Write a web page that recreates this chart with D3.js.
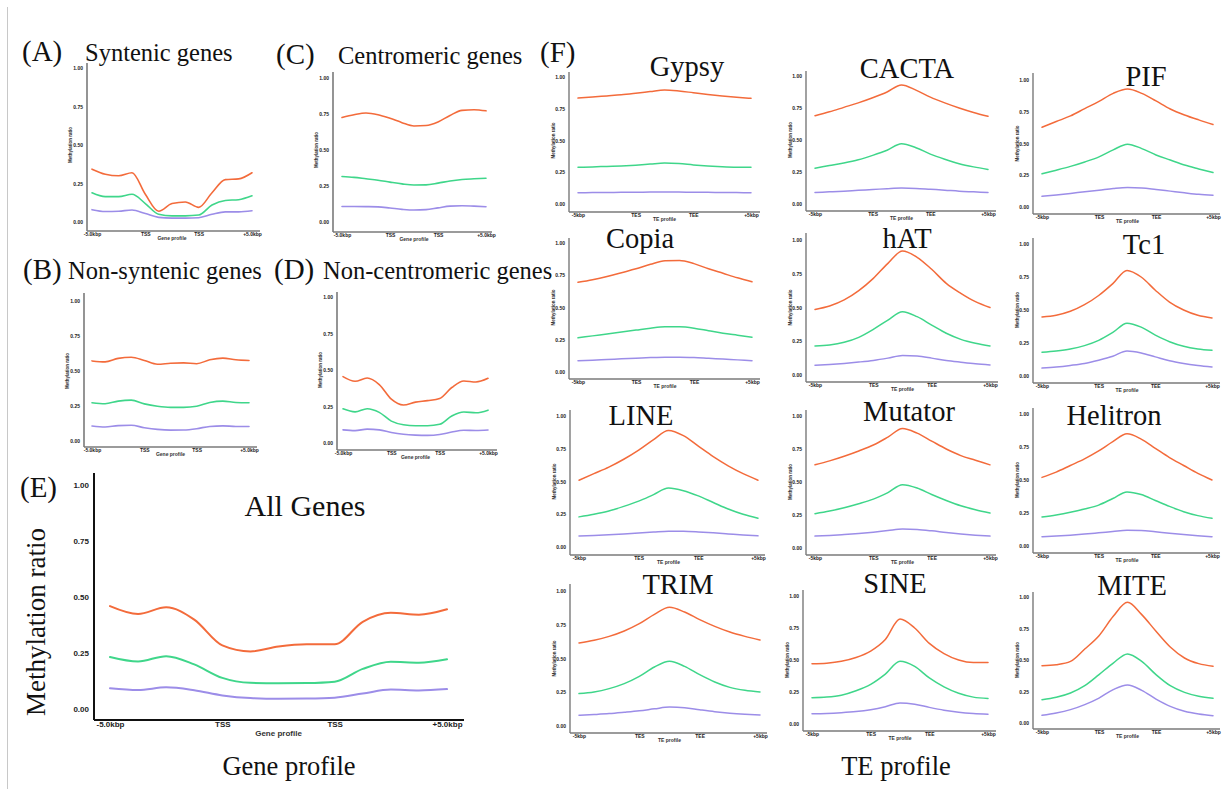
<!DOCTYPE html>
<html><head><meta charset="utf-8">
<script src="https://cdn.jsdelivr.net/npm/d3@7"></script>
<style>body{margin:0;background:#fff}svg{display:block}</style>
</head><body>
<svg id="chart" width="1231" height="789"></svg>
<script>
// ---------- DATA ----------
const positions = d3.range(13);               // 13 bins along the profile
const yTickValues = [0, 0.25, 0.5, 0.75, 1];
const geneTicks = ["-5.0kbp", "TSS", "TSS", "+5.0kbp"];
const teTicks = ["-5kbp", "TES", "TEE", "+5kbp"];
const contexts = ["CG", "CHG", "CHH"];

const syntenic = {
  CG:  [0.343, 0.31, 0.30, 0.32, 0.18, 0.07, 0.12, 0.13, 0.095, 0.19, 0.275, 0.28, 0.32],
  CHG: [0.19, 0.165, 0.165, 0.18, 0.12, 0.05, 0.04, 0.04, 0.045, 0.11, 0.14, 0.145, 0.17],
  CHH: [0.08, 0.068, 0.07, 0.078, 0.055, 0.03, 0.025, 0.025, 0.028, 0.05, 0.066, 0.066, 0.073]
};
const centromeric = {
  CG:  [0.726, 0.745, 0.757, 0.745, 0.72, 0.69, 0.667, 0.67, 0.695, 0.74, 0.775, 0.78, 0.772],
  CHG: [0.316, 0.31, 0.30, 0.29, 0.277, 0.265, 0.257, 0.258, 0.27, 0.285, 0.295, 0.30, 0.304],
  CHH: [0.108, 0.108, 0.107, 0.105, 0.097, 0.088, 0.083, 0.086, 0.098, 0.11, 0.113, 0.11, 0.106]
};
const nonSyntenic = {
  CG:  [0.572, 0.565, 0.59, 0.598, 0.575, 0.548, 0.555, 0.558, 0.552, 0.58, 0.592, 0.58, 0.575],
  CHG: [0.273, 0.266, 0.285, 0.292, 0.265, 0.248, 0.24, 0.24, 0.248, 0.275, 0.285, 0.275, 0.273],
  CHH: [0.107, 0.10, 0.11, 0.112, 0.095, 0.083, 0.078, 0.079, 0.088, 0.104, 0.108, 0.104, 0.104]
};
const nonCentromeric = {
  CG:  [0.455, 0.423, 0.445, 0.40, 0.30, 0.26, 0.28, 0.29, 0.305, 0.38, 0.425, 0.418, 0.443],
  CHG: [0.234, 0.213, 0.235, 0.21, 0.15, 0.125, 0.118, 0.118, 0.128, 0.185, 0.212, 0.207, 0.225],
  CHH: [0.09, 0.085, 0.095, 0.09, 0.072, 0.06, 0.054, 0.052, 0.058, 0.075, 0.087, 0.086, 0.089]
};
const allGenes = {
  CG:  [0.46, 0.425, 0.455, 0.40, 0.285, 0.258, 0.28, 0.29, 0.29, 0.39, 0.43, 0.422, 0.446],
  CHG: [0.233, 0.213, 0.237, 0.20, 0.14, 0.118, 0.116, 0.117, 0.123, 0.18, 0.212, 0.208, 0.223],
  CHH: [0.094, 0.086, 0.098, 0.085, 0.062, 0.05, 0.047, 0.048, 0.052, 0.07, 0.088, 0.084, 0.09]
};
const gypsy = {
  CG:  [0.834, 0.842, 0.851, 0.86, 0.872, 0.885, 0.898, 0.89, 0.876, 0.862, 0.85, 0.84, 0.832],
  CHG: [0.289, 0.292, 0.296, 0.30, 0.306, 0.314, 0.322, 0.318, 0.308, 0.30, 0.294, 0.29, 0.289],
  CHH: [0.089, 0.09, 0.091, 0.092, 0.093, 0.094, 0.095, 0.094, 0.093, 0.092, 0.091, 0.09, 0.089]
};
const cacta = {
  CG:  [0.69, 0.72, 0.755, 0.79, 0.83, 0.875, 0.93, 0.89, 0.835, 0.79, 0.75, 0.715, 0.685],
  CHG: [0.28, 0.30, 0.32, 0.345, 0.38, 0.42, 0.47, 0.44, 0.39, 0.35, 0.315, 0.29, 0.27],
  CHH: [0.09, 0.095, 0.10, 0.107, 0.113, 0.12, 0.125, 0.122, 0.115, 0.108, 0.10, 0.095, 0.09]
};
const pif = {
  CG:  [0.628, 0.673, 0.717, 0.775, 0.832, 0.895, 0.929, 0.895, 0.835, 0.772, 0.725, 0.686, 0.65],
  CHG: [0.262, 0.29, 0.32, 0.355, 0.395, 0.45, 0.495, 0.46, 0.41, 0.37, 0.33, 0.30, 0.272],
  CHH: [0.084, 0.095, 0.107, 0.12, 0.132, 0.145, 0.153, 0.15, 0.138, 0.125, 0.112, 0.10, 0.092]
};
const copia = {
  CG:  [0.695, 0.715, 0.74, 0.77, 0.80, 0.835, 0.862, 0.865, 0.84, 0.80, 0.765, 0.73, 0.70],
  CHG: [0.265, 0.28, 0.295, 0.31, 0.325, 0.34, 0.35, 0.35, 0.34, 0.32, 0.30, 0.285, 0.27],
  CHH: [0.088, 0.092, 0.097, 0.102, 0.107, 0.112, 0.115, 0.115, 0.112, 0.106, 0.10, 0.094, 0.088]
};
const hat = {
  CG:  [0.486, 0.511, 0.556, 0.625, 0.716, 0.827, 0.918, 0.872, 0.783, 0.679, 0.605, 0.543, 0.50],
  CHG: [0.215, 0.222, 0.242, 0.279, 0.338, 0.407, 0.469, 0.432, 0.37, 0.309, 0.264, 0.235, 0.215],
  CHH: [0.072, 0.078, 0.086, 0.096, 0.108, 0.125, 0.145, 0.14, 0.125, 0.108, 0.095, 0.083, 0.074]
};
const tc1 = {
  CG:  [0.447, 0.46, 0.49, 0.54, 0.61, 0.70, 0.80, 0.75, 0.65, 0.56, 0.50, 0.46, 0.44],
  CHG: [0.18, 0.19, 0.205, 0.23, 0.27, 0.33, 0.40, 0.37, 0.31, 0.26, 0.225, 0.205, 0.195],
  CHH: [0.06, 0.068, 0.08, 0.095, 0.12, 0.15, 0.19, 0.175, 0.145, 0.115, 0.095, 0.08, 0.068]
};
const line = {
  CG:  [0.51, 0.56, 0.61, 0.67, 0.74, 0.82, 0.89, 0.85, 0.77, 0.69, 0.62, 0.56, 0.51],
  CHG: [0.23, 0.25, 0.275, 0.31, 0.35, 0.40, 0.45, 0.43, 0.39, 0.34, 0.29, 0.25, 0.22],
  CHH: [0.084, 0.088, 0.093, 0.099, 0.106, 0.114, 0.121, 0.12, 0.115, 0.108, 0.10, 0.092, 0.085]
};
const mutator = {
  CG:  [0.63, 0.66, 0.695, 0.735, 0.78, 0.84, 0.905, 0.87, 0.81, 0.75, 0.70, 0.665, 0.63],
  CHG: [0.26, 0.28, 0.305, 0.335, 0.37, 0.42, 0.48, 0.455, 0.405, 0.36, 0.32, 0.29, 0.265],
  CHH: [0.09, 0.095, 0.102, 0.11, 0.12, 0.132, 0.143, 0.14, 0.13, 0.117, 0.106, 0.097, 0.09]
};
const helitron = {
  CG:  [0.52, 0.56, 0.61, 0.66, 0.72, 0.79, 0.85, 0.81, 0.74, 0.67, 0.61, 0.55, 0.50],
  CHG: [0.22, 0.235, 0.255, 0.28, 0.31, 0.36, 0.41, 0.39, 0.345, 0.30, 0.26, 0.23, 0.21],
  CHH: [0.07, 0.075, 0.082, 0.09, 0.10, 0.11, 0.12, 0.118, 0.108, 0.097, 0.087, 0.078, 0.07]
};
const trim = {
  CG:  [0.615, 0.635, 0.664, 0.704, 0.758, 0.827, 0.879, 0.844, 0.788, 0.738, 0.696, 0.664, 0.637],
  CHG: [0.24, 0.252, 0.277, 0.314, 0.368, 0.437, 0.479, 0.442, 0.38, 0.326, 0.286, 0.264, 0.252],
  CHH: [0.079, 0.085, 0.092, 0.102, 0.113, 0.127, 0.14, 0.135, 0.12, 0.106, 0.095, 0.087, 0.081]
};
const sine = {
  CG:  [0.47, 0.475, 0.49, 0.52, 0.57, 0.66, 0.82, 0.75, 0.63, 0.55, 0.50, 0.48, 0.48],
  CHG: [0.205, 0.21, 0.225, 0.26, 0.31, 0.39, 0.49, 0.45, 0.36, 0.29, 0.24, 0.21, 0.20],
  CHH: [0.08, 0.082, 0.088, 0.097, 0.112, 0.135, 0.165, 0.155, 0.13, 0.108, 0.092, 0.082, 0.076]
};
const mite = {
  CG:  [0.455, 0.463, 0.489, 0.587, 0.693, 0.847, 0.958, 0.86, 0.728, 0.603, 0.516, 0.471, 0.45],
  CHG: [0.185, 0.204, 0.238, 0.296, 0.384, 0.476, 0.548, 0.489, 0.384, 0.296, 0.243, 0.212, 0.196],
  CHH: [0.061, 0.079, 0.106, 0.146, 0.198, 0.265, 0.302, 0.259, 0.19, 0.132, 0.093, 0.071, 0.058]
};

// ---------- STYLE / LAYOUT ----------
const colors = { CG: "#f36b3b", CHG: "#3fd68a", CHH: "#9c8de8" };
const serif = "'Liberation Serif','Times New Roman',serif";
const sans = "'Liberation Sans',Arial,sans-serif";

const svg = d3.select("#chart");
svg.append("rect").attr("width", 1231).attr("height", 789).attr("fill", "#fff");
svg.append("line").attr("x1", 7.5).attr("x2", 7.5).attr("y1", 7).attr("y2", 789)
  .attr("stroke", "#c8c8c8").attr("stroke-width", 1);

// layout: ax axis x, ls/le line start/end, ae axis end, y1 (value 1), y0 (value 0), ab axis bottom, at axis top
const genePanels = [
  { data: syntenic, ax: 87, ls: 92, le: 252, ae: 260, y1: 68, y0: 222, ab: 231, at: 63 },
  { data: centromeric, ax: 333, ls: 342, le: 486, ae: 492, y1: 78, y0: 222, ab: 232, at: 72 },
  { data: nonSyntenic, ax: 84, ls: 92, le: 249, ae: 257, y1: 301, y0: 441, ab: 447, at: 293 },
  { data: nonCentromeric, ax: 337, ls: 343, le: 488, ae: 497, y1: 297, y0: 443, ab: 450, at: 292 }
];
const tePanels = [
  { name: "Gypsy", data: gypsy, ax: 569, ls: 578, le: 751, ae: 760, y1: 77, y0: 204, ab: 212, at: 72, tx: 687, ty: 76 },
  { name: "CACTA", data: cacta, ax: 806, ls: 815, le: 988, ae: 996, y1: 76, y0: 204, ab: 211, at: 71, tx: 907, ty: 78 },
  { name: "PIF", data: pif, ax: 1033, ls: 1042, le: 1213, ae: 1220, y1: 80, y0: 207, ab: 214, at: 73, tx: 1146, ty: 86 },
  { name: "Copia", data: copia, ax: 569, ls: 578, le: 752, ae: 760, y1: 243, y0: 372, ab: 379, at: 238, tx: 640, ty: 247.5 },
  { name: "hAT", data: hat, ax: 806, ls: 815, le: 990, ae: 998, y1: 240, y0: 375, ab: 382, at: 233, tx: 907, ty: 247.5 },
  { name: "Tc1", data: tc1, ax: 1033, ls: 1042, le: 1212, ae: 1220, y1: 244, y0: 376, ab: 383, at: 238, tx: 1144, ty: 254 },
  { name: "LINE", data: line, ax: 570, ls: 579, le: 758, ae: 765, y1: 416, y0: 547, ab: 555, at: 410, tx: 641, ty: 425 },
  { name: "Mutator", data: mutator, ax: 806, ls: 815, le: 990, ae: 996, y1: 416, y0: 548, ab: 555, at: 410, tx: 909, ty: 421 },
  { name: "Helitron", data: helitron, ax: 1033, ls: 1042, le: 1212, ae: 1220, y1: 414, y0: 546, ab: 553, at: 408, tx: 1114, ty: 425 },
  { name: "TRIM", data: trim, ax: 570, ls: 579, le: 760, ae: 767, y1: 591, y0: 726, ab: 733, at: 584, tx: 678, ty: 594 },
  { name: "SINE", data: sine, ax: 803, ls: 812, le: 988, ae: 996, y1: 596, y0: 724, ab: 731, at: 590, tx: 895, ty: 593 },
  { name: "MITE", data: mite, ax: 1033, ls: 1042, le: 1213, ae: 1220, y1: 597, y0: 723, ab: 729, at: 592, tx: 1132, ty: 595 }
];

function drawPanel(p, tickLabels, opt) {
  const g = svg.append("g");
  const x = d3.scaleLinear().domain([0, positions.length - 1]).range([p.ls, p.le]);
  const y = d3.scaleLinear().domain([0, 1]).range([p.y0, p.y1]);

  // axis lines
  g.append("line").attr("x1", p.ax).attr("x2", p.ax).attr("y1", p.at).attr("y2", p.ab)
    .attr("stroke", opt.axisColor).attr("stroke-width", opt.axisWidth);
  g.append("line").attr("x1", p.ax).attr("x2", p.ae).attr("y1", p.ab).attr("y2", p.ab)
    .attr("stroke", opt.axisColor).attr("stroke-width", opt.axisWidth);

  // y ticks
  const ya = g.append("g").attr("transform", `translate(${p.ax - opt.ypad},0)`)
    .call(d3.axisLeft(y).tickValues(yTickValues).tickSize(0).tickPadding(0).tickFormat(d3.format(".2f")));
  ya.select(".domain").remove();
  ya.selectAll("text").attr("font-family", sans).attr("font-weight", "bold")
    .attr("font-size", opt.fs).attr("fill", "#222");

  // x ticks
  const n = positions.length - 1;
  const xa = g.append("g").attr("transform", `translate(0,${p.ab})`)
    .call(d3.axisBottom(x).tickValues([0, n / 3, 2 * n / 3, n]).tickSize(0).tickPadding(opt.xpad)
      .tickFormat((d, i) => tickLabels[i]));
  xa.select(".domain").remove();
  xa.selectAll("text").attr("font-family", sans).attr("font-weight", "bold")
    .attr("font-size", opt.fs).attr("fill", "#222");

  // small axis titles
  if (opt.yTitle) {
    g.append("text").attr("transform", `translate(${p.ax - opt.yTitleOff},${(p.y0 + p.y1) / 2}) rotate(-90)`)
      .attr("text-anchor", "middle").attr("font-family", sans).attr("font-weight", "bold")
      .attr("font-size", opt.fs * 0.9).attr("fill", "#333").text("Methylation ratio");
  }
  g.append("text").attr("x", (p.ls + p.le) / 2).attr("y", p.ab + opt.xTitleOff)
    .attr("text-anchor", "middle").attr("font-family", sans).attr("font-weight", "bold")
    .attr("font-size", opt.fs).attr("fill", "#333").text(opt.xTitle);

  // series
  const gen = d3.line().x((d, i) => x(positions[i])).y(d => y(d)).curve(d3.curveMonotoneX);
  contexts.slice().reverse().forEach(c => {
    g.append("path").attr("d", gen(p.data[c])).attr("fill", "none")
      .attr("stroke", colors[c]).attr("stroke-width", opt.lw).attr("stroke-linecap", "round");
  });
  return g;
}

const smallOpt = { axisColor: "#7a7a7a", axisWidth: 1.6, fs: 5, ypad: 4, xpad: 1.5, lw: 1.6,
  yTitle: true, yTitleOff: 15, xTitleOff: 9, xTitle: "Gene profile" };
genePanels.forEach(p => drawPanel(p, geneTicks, smallOpt));

const teOpt = Object.assign({}, smallOpt, { yTitleOff: 14, xTitleOff: 9, xTitle: "TE profile", lw: 1.5, axisWidth: 1.4 });
tePanels.forEach(p => {
  drawPanel(p, teTicks, teOpt);
  svg.append("text").attr("x", p.tx).attr("y", p.ty).attr("text-anchor", "middle")
    .attr("font-family", serif).attr("font-size", 28.5).attr("fill", "#111").text(p.name);
});

// Panel E
const eP = { data: allGenes, ax: 94, ls: 110, le: 447, ae: 464, y1: 485, y0: 709.3, ab: 720, at: 473 };
drawPanel(eP, geneTicks, { axisColor: "#111", axisWidth: 2, fs: 8, ypad: 5, xpad: 1.5, lw: 2,
  yTitle: false, xTitleOff: 16, xTitle: "Gene profile" });

// ---------- TITLES ----------
function txt(x, y, s, size, anchor) {
  return svg.append("text").attr("x", x).attr("y", y).attr("font-family", serif)
    .attr("font-size", size).attr("fill", "#111").attr("text-anchor", anchor || "start").text(s);
}
txt(22, 61, "(A)", 29); txt(85, 61, "Syntenic genes", 24.5);
txt(276, 64, "(C)", 29); txt(338, 64, "Centromeric genes", 24.5);
txt(23, 279, "(B)", 29); txt(68, 279, "Non-syntenic genes", 24.5);
svg.append("clipPath").attr("id", "clipD").append("rect").attr("x", 260).attr("y", 240).attr("width", 296).attr("height", 60);
txt(274, 279, "(D)", 29); 
txt(323, 279, "Non-centromeric genes", 24.5).attr("clip-path", "url(#clipD)");
txt(20, 497, "(E)", 29);
txt(305, 516, "All Genes", 30, "middle");
svg.append("text").attr("transform", "translate(45,622) rotate(-90)").attr("text-anchor", "middle")
  .attr("font-family", serif).attr("font-size", 27).attr("fill", "#111").text("Methylation ratio");
txt(289, 775, "Gene profile", 26.5, "middle");
txt(540, 62, "(F)", 29);
txt(896, 775, "TE profile", 26.5, "middle");
</script>
</body></html>
